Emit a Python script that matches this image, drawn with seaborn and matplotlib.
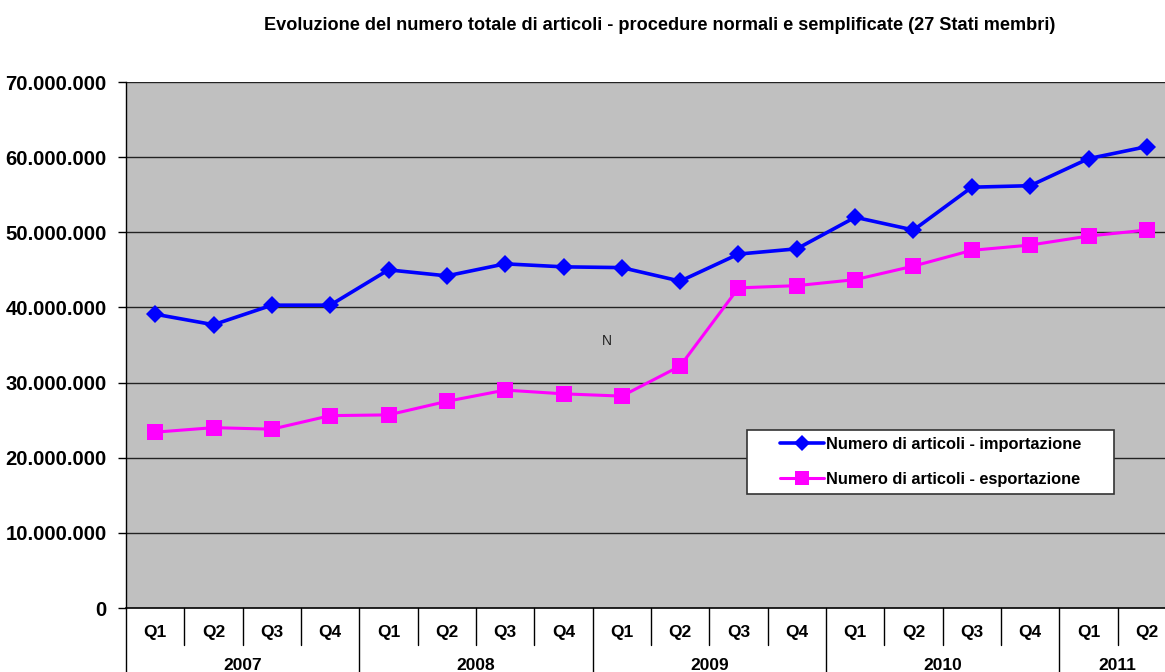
import matplotlib
matplotlib.use("Agg")
import matplotlib.pyplot as plt
import seaborn as sns
import pandas as pd
import numpy as np
from matplotlib.lines import Line2D
from matplotlib.patches import Rectangle

# ---- data ----
quarters = ["Q1", "Q2", "Q3", "Q4"] * 4 + ["Q1", "Q2"]
years = ["2007", "2008", "2009", "2010", "2011"]
year_counts = [4, 4, 4, 4, 2]
import_vals = [39.1e6, 37.7e6, 40.3e6, 40.3e6, 45.0e6, 44.2e6, 45.8e6, 45.4e6, 45.3e6,
               43.5e6, 47.1e6, 47.8e6, 52.0e6, 50.3e6, 56.0e6, 56.2e6, 59.8e6, 61.4e6]
export_vals = [23.4e6, 24.0e6, 23.8e6, 25.6e6, 25.7e6, 27.5e6, 29.0e6, 28.5e6, 28.2e6,
               32.2e6, 42.6e6, 42.9e6, 43.7e6, 45.5e6, 47.6e6, 48.3e6, 49.5e6, 50.3e6]
series_names = ["Numero di articoli - importazione", "Numero di articoli - esportazione"]
title = "Evoluzione del numero totale di articoli - procedure normali e semplificate (27 Stati membri)"

sns.set_theme(style="white")
plt.rcParams["font.family"] = ["Liberation Sans", "DejaVu Sans"]
plt.rcParams["text.color"] = "black"
plt.rcParams["ytick.labelcolor"] = "black"

n = len(quarters)
idx = np.arange(n)
df = pd.DataFrame({
    "x": np.concatenate([idx, idx]),
    "value": import_vals + export_vals,
    "serie": [series_names[0]] * n + [series_names[1]] * n,
})

fig = plt.figure(figsize=(11.65, 6.72), dpi=100)
axw = 1176 - 126
axh = 608 - 82
ax = fig.add_axes([126 / 1165, 1 - 608 / 672, axw / 1165, axh / 672])
ax.set_facecolor("#C0C0C0")

sns.lineplot(data=df, x="x", y="value", hue="serie", style="serie",
             palette={series_names[0]: "#0000FF", series_names[1]: "#FF00FF"},
             markers={series_names[0]: "D", series_names[1]: "s"},
             dashes=False, ax=ax, legend=False, zorder=3)
lines = ax.get_lines()
lines[0].set_linewidth(2.6); lines[0].set_markersize(9.5); lines[0].set_markeredgewidth(0)
lines[1].set_linewidth(2.2); lines[1].set_markersize(11); lines[1].set_markeredgewidth(0)

ax.set_xlim(-0.5, n - 0.5)
ax.set_ylim(0, 70e6)
yt = np.arange(0, 70e6 + 1, 10e6)
ax.set_yticks(yt)
ax.set_yticklabels(["0" if v == 0 else f"{int(v):,}".replace(",", ".") for v in yt],
                   fontsize=14.6, fontweight="bold")
ax.tick_params(axis="y", direction="out", length=6, width=1, color="black", pad=8, left=True)
for v in yt[1:]:
    ax.axhline(v, color="#222222", lw=1, zorder=1)

ax.set_xticks([])
ax.set_xlabel("")
ax.set_ylabel("")
for s in ["top", "right"]:
    ax.spines[s].set_visible(False)
ax.spines["left"].set_color("black")
ax.spines["bottom"].set_color("black")
ax.spines["left"].set_linewidth(1)
ax.spines["bottom"].set_linewidth(1.2)

tr = ax.get_xaxis_transform()
for i, q in enumerate(quarters):
    ax.text(i, -25 / axh, q, transform=tr, ha="center", va="center",
            fontsize=12.5, fontweight="bold", color="black")
year_bounds = np.cumsum(year_counts)[:-1] - 0.5
for i in range(n):
    b = i - 0.5
    depth = 66 if (i == 0 or b in year_bounds) else 37
    ax.plot([b, b], [0, -depth / axh], transform=tr, color="black", lw=1, clip_on=False)
start = 0
for y, c in zip(years, year_counts):
    center = start + (c - 1) / 2
    ax.text(center, -58 / axh, y, transform=tr, ha="center", va="center",
            fontsize=12.5, fontweight="bold", color="black")
    start += c

# legend box
bx0, bx1, by0, by1 = 747, 1114, 430, 494
ax.add_patch(Rectangle(((bx0 - 126) / axw, (608 - by1) / axh),
                       (bx1 - bx0) / axw, (by1 - by0) / axh,
                       transform=ax.transAxes, facecolor="white",
                       edgecolor="#333333", lw=1.2, zorder=4))
handles = [Line2D([], [], color="#0000FF", marker="D", lw=2.6, markersize=8.5, markeredgewidth=0),
           Line2D([], [], color="#FF00FF", marker="s", lw=2.2, markersize=10, markeredgewidth=0)]
leg = ax.legend(handles, series_names, loc="center",
                bbox_to_anchor=(((bx0 + bx1) / 2 - 126) / axw, (608 - (by0 + by1) / 2) / axh),
                frameon=False, handlelength=2.7, handletextpad=0.15,
                borderpad=0, labelspacing=1.2, prop={"weight": "bold", "size": 11.8},
                borderaxespad=0)
leg.set_zorder(5)

# stray mark
fig.text(607 / 1165, 1 - 341 / 672, "N", fontsize=10, ha="center", va="center", color="#222222")

fig.text(660 / 1165, 1 - 25 / 672, title, ha="center", va="center",
         fontsize=13.1, fontweight="bold")

fig.savefig("out.png", dpi=100)
